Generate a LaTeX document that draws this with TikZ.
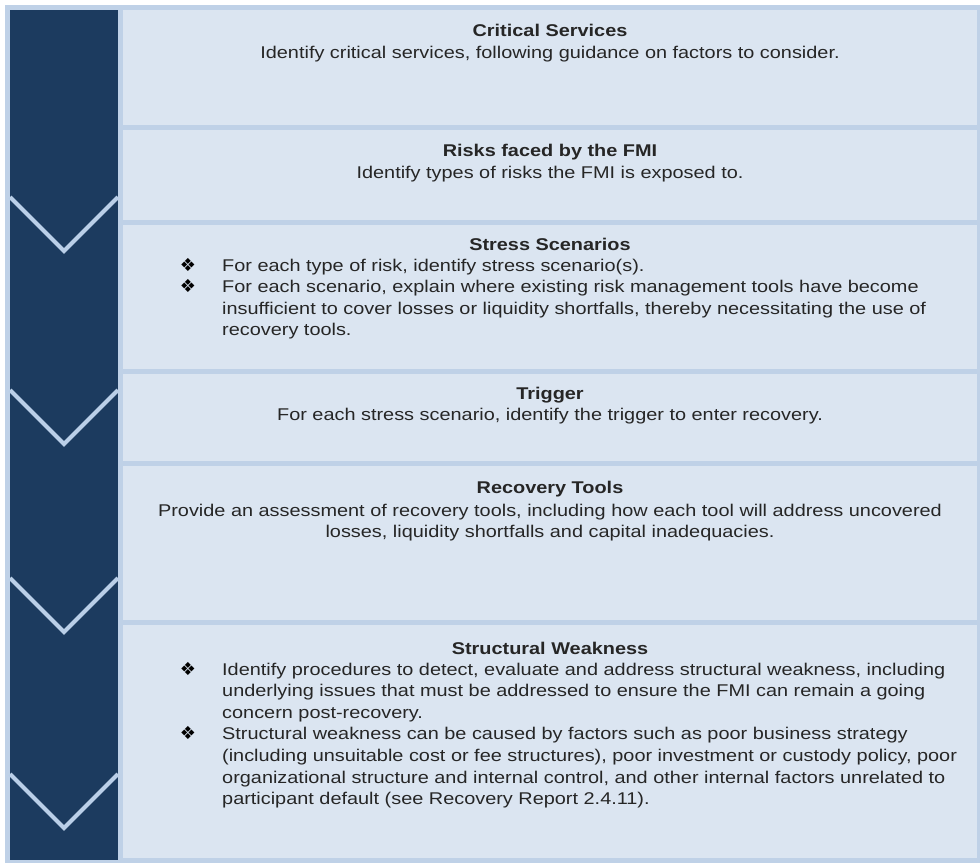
\documentclass[tikz,border=0pt]{standalone}
\usepackage{fontspec}
\setmainfont{Liberation Sans}[FakeStretch=1.17]
\newfontfamily\symfont{DejaVu Sans}
\definecolor{frameblue}{HTML}{BFD1E7}
\definecolor{boxblue}{HTML}{DBE5F1}
\definecolor{navy}{HTML}{1C3B5F}
\definecolor{chevline}{HTML}{BACFE8}
\definecolor{ink}{HTML}{262626}
\tikzset{
  head/.style={font=\fontsize{17}{21.6}\selectfont\bfseries, text=ink, inner sep=0pt, anchor=north},
  body/.style={font=\fontsize{17}{21.6}\selectfont, text=ink, inner sep=0pt, align=center, anchor=north},
  list/.style={font=\fontsize{17}{21.6}\selectfont, text=ink, inner sep=0pt, align=left, anchor=north west},
  bul/.style={font=\symfont\fontsize{18}{18}\selectfont, text=black, inner sep=0pt, anchor=base},
  panel/.style={fill=boxblue, draw=none}
}
\begin{document}
\begin{tikzpicture}[x=1pt,y=-1pt]
    \useasboundingbox[fill=white] (0,0) rectangle (980,863);
    \fill[frameblue] (5,5) rectangle (980,863);
    \fill[navy] (10,10) rectangle (118,860);
    % panels
    \fill[panel] (123,10) rectangle (977,125);
    \fill[panel] (123,130) rectangle (977,220);
    \fill[panel] (123,225) rectangle (977,369);
    \fill[panel] (123,374) rectangle (977,461);
    \fill[panel] (123,466) rectangle (977,620);
    \fill[panel] (123,625) rectangle (977,858);
    % chevrons
    \draw[chevline,line width=4pt] (10,197) -- (64,251) -- (118,197);
    \draw[chevline,line width=4pt] (10,390) -- (64,444) -- (118,390);
    \draw[chevline,line width=4pt] (10,578) -- (64,632) -- (118,578);
    \draw[chevline,line width=4pt] (10,774) -- (64,828) -- (118,774);

    \node[head] (crit) at (550,23.6) {Critical Services};
    \node[body] (critTxt) at (550,45.6) {Identify critical services, following guidance on factors to consider.};

    \node[head] (risk) at (550,143.6) {Risks faced by the FMI};
    \node[body] (riskTxt) at (550,165.6) {Identify types of risks the FMI is exposed to.};

    \node[head] (stress) at (550,237.6) {Stress Scenarios};
    \node[list] (stressTxt) at (222,258.6) {For each type of risk, identify stress scenario(s).\\
      For each scenario, explain where existing risk management tools have become\\
      insufficient to cover losses or liquidity shortfalls, thereby necessitating the use of\\
      recovery tools.};
    \node[bul] (stressA) at (188,271) {❖};
    \node[bul] (stressB) at (188,292.6) {❖};

    \node[head] (trig) at (550,386.6) {Trigger};
    \node[body] (trigTxt) at (550,407.6) {For each stress scenario, identify the trigger to enter recovery.};

    \node[head] (tools) at (550,480.6) {Recovery Tools};
    \node[body] (toolsTxt) at (550,503.6) {Provide an assessment of recovery tools, including how each tool will address uncovered\\
      losses, liquidity shortfalls and capital inadequacies.};

    \node[head] (weak) at (550,641.6) {Structural Weakness};
    \node[list] (weakTxt) at (222,662.6) {Identify procedures to detect, evaluate and address structural weakness, including\\
      underlying issues that must be addressed to ensure the FMI can remain a going\\
      concern post-recovery.\\
      Structural weakness can be caused by factors such as poor business strategy\\
      (including unsuitable cost or fee structures), poor investment or custody policy, poor\\
      organizational structure and internal control, and other internal factors unrelated to\\
      participant default (see Recovery Report 2.4.11).};
    \node[bul] (weakA) at (188,675) {❖};
    \node[bul] (weakB) at (188,739.8) {❖};
\end{tikzpicture}
\end{document}
